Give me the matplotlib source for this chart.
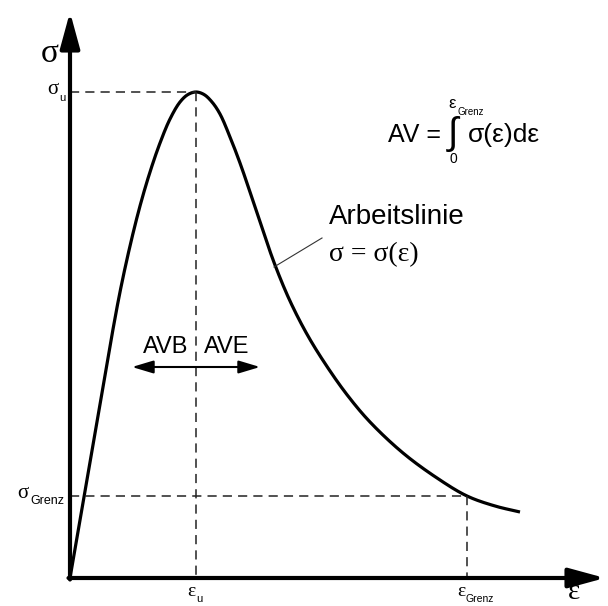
import matplotlib
matplotlib.use("Agg")
import matplotlib.pyplot as plt
import numpy as np

# Working line (strain, stress in drawing units)
eps_pts = [0, 20, 40, 50, 60, 70, 80, 90, 100, 110, 118, 126,
           134, 142, 150, 160, 170, 180, 192, 205, 220, 238, 258, 278, 300, 333, 367, 397, 425, 450]
sig_pts = [0, 116, 232, 286, 332, 372, 406, 435, 459, 476, 483.5, 486,
           483.5, 476, 464, 441, 415, 386, 350, 313, 277, 242, 210, 182, 156, 125, 100, 82, 72, 66]

eps_u, sig_u = 126, 486
eps_grenz, sig_grenz = 397, 82
eps_max, sig_max = 535, 566


def catmull_rom(x, y, n=40, alpha=0.5):
    # centripetal Catmull-Rom through the read points
    p = np.column_stack([x, y]).astype(float)
    p = np.vstack([p[0] * 2 - p[1], p, p[-1] * 2 - p[-2]])
    out = []
    for i in range(1, len(p) - 2):
        p0, p1, p2, p3 = p[i - 1], p[i], p[i + 1], p[i + 2]
        t0 = 0.0
        t1 = t0 + np.linalg.norm(p1 - p0) ** alpha
        t2 = t1 + np.linalg.norm(p2 - p1) ** alpha
        t3 = t2 + np.linalg.norm(p3 - p2) ** alpha
        t = np.linspace(t1, t2, n, endpoint=False)[:, None]
        a1 = (t1 - t) / (t1 - t0) * p0 + (t - t0) / (t1 - t0) * p1
        a2 = (t2 - t) / (t2 - t1) * p1 + (t - t1) / (t2 - t1) * p2
        a3 = (t3 - t) / (t3 - t2) * p2 + (t - t2) / (t3 - t2) * p3
        b1 = (t2 - t) / (t2 - t0) * a1 + (t - t0) / (t2 - t0) * a2
        b2 = (t3 - t) / (t3 - t1) * a2 + (t - t1) / (t3 - t1) * a3
        c = (t2 - t) / (t2 - t1) * b1 + (t - t1) / (t2 - t1) * b2
        out.append(c)
    out.append(p[-2][None, :])
    out = np.vstack(out)
    return out[:, 0], out[:, 1]


fig = plt.figure(figsize=(6.08, 6.06), dpi=100)
ax = fig.add_axes([0, 0, 1, 1])
ax.set_xlim(-70, 538)
ax.set_ylim(-28, 578)
ax.axis("off")

serif = "Liberation Serif"
sans = "Liberation Sans"

# curve
cx, cy = catmull_rom(eps_pts, sig_pts)
ax.plot(cx, cy, color="black", lw=2.3, solid_capstyle="butt", solid_joinstyle="round")

# dashed helper lines
dash = dict(color="#222222", lw=1.1, dashes=(6, 4))
ax.plot([0, eps_u], [sig_u, sig_u], **dash)
ax.plot([eps_u, eps_u], [sig_u, 0], **dash)
ax.plot([0, eps_grenz], [sig_grenz, sig_grenz], **dash)
ax.plot([eps_grenz, eps_grenz], [sig_grenz, 0], **dash)

# axes with arrows
arr = dict(arrowstyle="-|>,head_length=1.1,head_width=0.3", lw=3, color="black",
           mutation_scale=20, shrinkA=0, shrinkB=0)
ax.annotate("", xy=(eps_max, 0), xytext=(-1.5, 0), arrowprops=arr)
ax.annotate("", xy=(0, sig_max), xytext=(0, -1.5), arrowprops=arr)

# axis labels
ax.text(-20, 524, "σ", fontsize=24, family=serif, ha="center", va="center")
ax.text(504, -14, "ε", fontsize=21, family=serif, ha="center", va="center")

# tick-like labels
ax.text(-12, sig_u + 2, "σ", fontsize=15, family=serif, ha="right", va="center")
ax.text(-11, sig_u - 6, "u", fontsize=8, family=sans, ha="left", va="center")
ax.text(-41, sig_grenz + 3, "σ", fontsize=15, family=serif, ha="right", va="center")
ax.text(-40, sig_grenz - 5, "Grenz", fontsize=9, family=sans, ha="left", va="center")
ax.text(eps_u - 1, -13, "ε", fontsize=14, family=serif, ha="right", va="center")
ax.text(eps_u, -21, "u", fontsize=8, family=sans, ha="left", va="center")
ax.text(eps_grenz - 2, -13, "ε", fontsize=14, family=serif, ha="right", va="center")
ax.text(eps_grenz - 1, -21, "Grenz", fontsize=7.5, family=sans, ha="left", va="center")

# AVB / AVE
ax.text(eps_u - 8, 231, "AVB", fontsize=17, family=sans, ha="right", va="center")
ax.text(eps_u + 8, 231, "AVE", fontsize=17, family=sans, ha="left", va="center")
ax.annotate("", xy=(62, 211), xytext=(190, 211),
            arrowprops=dict(arrowstyle="<|-|>,head_length=1.0,head_width=0.3", lw=1.5,
                            color="black", mutation_scale=13, shrinkA=0, shrinkB=0))

# Arbeitslinie label
ax.text(259, 361, "Arbeitslinie", fontsize=20, family=sans, ha="left", va="center")
ax.text(259, 323, "σ = σ(ε)", fontsize=20, family=serif, ha="left", va="center")
ax.plot([204, 252], [311, 340], color="#333333", lw=0.8)

# formula
ax.text(318, 443, "AV =", fontsize=18, family=sans, ha="left", va="center")
ax.text(383, 444, "∫", fontsize=27, family=sans, ha="center", va="center", fontweight="light")
ax.text(382, 475, "ε", fontsize=12, family=sans, ha="center", va="center")
ax.text(388, 466, "Grenz", fontsize=7, family=sans, ha="left", va="center")
ax.text(383, 419, "0", fontsize=10, family=sans, ha="center", va="center")
ax.text(398, 443, "σ(ε)dε", fontsize=19, family=sans, ha="left", va="center")

fig.savefig("out.png", dpi=100)
